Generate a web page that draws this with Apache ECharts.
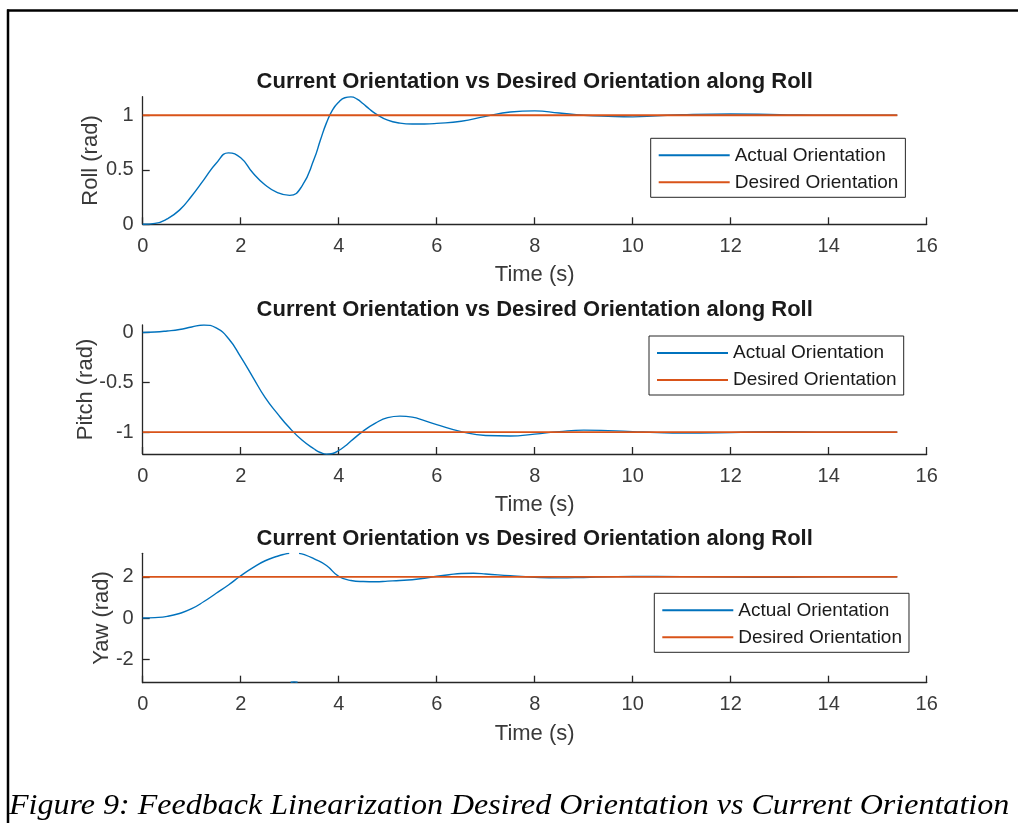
<!DOCTYPE html>
<html>
<head>
<meta charset="utf-8">
<title>Feedback Linearization Orientation</title>
<script src="https://cdn.jsdelivr.net/npm/echarts@6/dist/echarts.min.js"></script>
<style>
  html, body { margin: 0; padding: 0; background: #fff; }
  #chart { width: 1018px; height: 823px; }
</style>
</head>
<body>
<div id="chart"></div>
<script>
// ---- data ----
const panelTitle = 'Current Orientation vs Desired Orientation along Roll';
const xLabel = 'Time (s)';
const seriesNames = ['Actual Orientation', 'Desired Orientation'];
const captionText = 'Figure 9: Feedback Linearization Desired Orientation vs Current Orientation';

const timeTicks = [0, 2, 4, 6, 8, 10, 12, 14, 16];
const simEnd = 15.4;

// Roll
const rollTime =   [0, 0.25, 0.5, 0.75, 1.0, 1.25, 1.5, 1.75, 2.0, 2.25, 2.5, 2.75, 3.0, 3.25, 3.5, 3.625, 3.75, 3.875, 4.0, 4.125, 4.25, 4.375, 4.5, 4.625, 4.75, 5.0, 5.25, 5.5, 5.75, 6.0, 6.5, 7.0, 7.5, 8.0, 8.5, 9.0, 9.5, 10.0, 10.5, 11.0, 12.0, 13.0, 14.0, 15.4];
const rollActual = [0, 0.008, 0.05, 0.13, 0.26, 0.41, 0.56, 0.655, 0.61, 0.47, 0.36, 0.29, 0.265, 0.35, 0.6, 0.77, 0.93, 1.05, 1.12, 1.16, 1.168, 1.148, 1.105, 1.057, 1.015, 0.955, 0.928, 0.92, 0.92, 0.925, 0.945, 0.99, 1.03, 1.04, 1.02, 1.0, 0.99, 0.985, 0.995, 1.005, 1.012, 1.005, 1.0, 1.0];
const rollDesired = 1;
const rollTicks = [0, 0.5, 1];
const rollRange = [0, 1.17];

// Pitch
const pitchTime =   [0, 0.25, 0.5, 0.75, 1.0, 1.25, 1.5, 1.75, 2.0, 2.25, 2.5, 2.75, 3.0, 3.25, 3.5, 3.625, 3.75, 3.875, 4.0, 4.125, 4.25, 4.5, 4.75, 5.0, 5.25, 5.5, 5.75, 6.0, 6.5, 7.0, 7.5, 8.0, 8.5, 9.0, 9.5, 10.0, 10.5, 11.0, 12.0, 13.0, 14.0, 15.4];
const pitchActual = [0, 0.004, 0.015, 0.03, 0.055, 0.075, 0.045, -0.06, -0.245, -0.45, -0.655, -0.815, -0.96, -1.08, -1.17, -1.205, -1.222, -1.215, -1.185, -1.142, -1.09, -0.99, -0.91, -0.855, -0.84, -0.85, -0.885, -0.925, -0.995, -1.035, -1.04, -1.02, -0.995, -0.98, -0.985, -0.995, -1.005, -1.01, -1.005, -0.995, -1.0, -1.0];
const pitchDesired = -1;
const pitchTicks = [-1, -0.5, 0];
const pitchRange = [-1.22, 0.075];

// Yaw (wrapped to [-pi, pi]; null marks a wrap-around jump)
const yawTime =   [0, 0.25, 0.5, 0.75, 1.0, 1.25, 1.5, 1.75, 2.0, 2.25, 2.5, 2.75, 2.9, 2.99, 3.0, 3.02, 3.09, 3.16, 3.17, 3.19, 3.3, 3.5, 3.75, 4.0, 4.25, 4.5, 4.75, 5.0, 5.25, 5.5, 5.75, 6.0, 6.25, 6.5, 6.75, 7.0, 7.5, 8.0, 8.5, 9.0, 9.5, 10.0, 11.0, 12.0, 13.0, 14.0, 15.4];
const yawActual = [0, 0.02, 0.08, 0.22, 0.45, 0.8, 1.2, 1.6, 2.05, 2.45, 2.78, 3.0, 3.1, 3.14, null, -3.12, -3.1, -3.12, null, 3.14, 3.08, 2.87, 2.55, 2.02, 1.82, 1.77, 1.76, 1.79, 1.82, 1.86, 1.93, 2.03, 2.1, 2.16, 2.17, 2.14, 2.05, 1.98, 1.95, 1.97, 2.0, 2.02, 2.01, 1.99, 1.98, 2.0, 2.0];
const yawDesired = 2;
const yawTicks = [-2, 0, 2];
const yawRange = [-Math.PI, Math.PI];

// ---- styling ----
const FONT = 'Liberation Sans, Arial, Helvetica, sans-serif';
const AXIS_COLOR = '#262626';
const TEXT_COLOR = '#3a3a3a';
const BLUE = '#0072BD';
const ORANGE = '#D95319';

const panels = [
  { name: 'Roll (rad)',  time: rollTime,  actual: rollActual,  desired: rollDesired,  ticks: rollTicks,  range: rollRange,
    grid: { top: 96.7, height: 127.6 }, titleTop: 71, yNameGap: 41, legend: { left: 650.7, top: 138.3 } },
  { name: 'Pitch (rad)', time: pitchTime, actual: pitchActual, desired: pitchDesired, ticks: pitchTicks, range: pitchRange,
    grid: { top: 325, height: 129 }, titleTop: 299, yNameGap: 46, legend: { left: 649, top: 336 } },
  { name: 'Yaw (rad)',   time: yawTime,   actual: yawActual,   desired: yawDesired,   ticks: yawTicks,   range: yawRange,
    grid: { top: 553.3, height: 129.4 }, titleTop: 528, yNameGap: 30, legend: { left: 654.3, top: 593.3 } }
];

const gridLeft = 142.7;
const gridRight = 1018 - 926.7;
const plotCenter = (gridLeft + 926.7) / 2;

const option = {
  backgroundColor: '#fff',
  animation: false,
  title: panels.map(p => ({
    text: panelTitle,
    left: plotCenter,
    top: p.titleTop,
    textAlign: 'center',
    padding: 0,
    textStyle: { fontFamily: FONT, fontSize: 22, fontWeight: 'bold', color: '#1a1a1a' }
  })),
  legend: panels.map(p => ({
    data: seriesNames,
    left: p.legend.left,
    top: p.legend.top,
    orient: 'vertical',
    icon: 'rect',
    itemWidth: 71,
    itemHeight: 2,
    itemGap: 7,
    padding: [7, 7, 5, 8],
    borderColor: AXIS_COLOR,
    borderWidth: 1,
    backgroundColor: '#fff',
    selectedMode: false,
    textStyle: { fontFamily: FONT, fontSize: 19, color: '#1a1a1a', lineHeight: 20 }
  })),
  grid: panels.map(p => ({ left: gridLeft, right: gridRight, top: p.grid.top, height: p.grid.height })),
  xAxis: panels.map((p, i) => ({
    type: 'value',
    gridIndex: i,
    min: timeTicks[0],
    max: timeTicks[timeTicks.length - 1],
    interval: timeTicks[1] - timeTicks[0],
    name: xLabel,
    nameLocation: 'middle',
    nameGap: 40,
    nameMoveOverlap: false,
    nameTextStyle: { fontFamily: FONT, fontSize: 22, color: TEXT_COLOR },
    axisLine: { show: true, onZero: false, lineStyle: { color: AXIS_COLOR, width: 1.3 } },
    axisTick: { show: true, inside: true, length: 7, lineStyle: { color: AXIS_COLOR, width: 1.3 } },
    axisLabel: { margin: 12, fontFamily: FONT, fontSize: 20, color: TEXT_COLOR },
    splitLine: { show: false }
  })),
  yAxis: panels.map((p, i) => ({
    type: 'value',
    gridIndex: i,
    min: p.range[0],
    max: p.range[1],
    name: p.name,
    nameLocation: 'middle',
    nameGap: p.yNameGap,
    nameMoveOverlap: false,
    nameTextStyle: { fontFamily: FONT, fontSize: 22, color: TEXT_COLOR },
    axisLine: { show: true, onZero: false, lineStyle: { color: AXIS_COLOR, width: 1.3 } },
    axisTick: { show: true, inside: true, length: 7, customValues: p.ticks, lineStyle: { color: AXIS_COLOR, width: 1.3 } },
    axisLabel: { margin: 9, customValues: p.ticks, fontFamily: FONT, fontSize: 20, color: TEXT_COLOR },
    splitLine: { show: false }
  })),
  series: panels.flatMap((p, i) => [
    {
      name: seriesNames[0],
      type: 'line',
      xAxisIndex: i,
      yAxisIndex: i,
      data: p.time.map((t, k) => [t, p.actual[k]]),
      showSymbol: false,
      symbol: 'none',
      smooth: 0.5,
      connectNulls: false,
      clip: true,
      lineStyle: { color: BLUE, width: 1.4 },
      itemStyle: { color: BLUE },
      z: 2
    },
    {
      name: seriesNames[1],
      type: 'line',
      xAxisIndex: i,
      yAxisIndex: i,
      data: [[0, p.desired], [simEnd, p.desired]],
      showSymbol: false,
      symbol: 'none',
      lineStyle: { color: ORANGE, width: 1.8 },
      itemStyle: { color: ORANGE },
      z: 3
    }
  ]),
  graphic: [
    { type: 'line', shape: { x1: 7, y1: 10.5, x2: 1018, y2: 10.5 }, style: { stroke: '#000', lineWidth: 2.5 } },
    { type: 'line', shape: { x1: 8, y1: 9.5, x2: 8, y2: 823 }, style: { stroke: '#000', lineWidth: 2.5 } },
    {
      type: 'text',
      x: 9,
      y: 791,
      scaleX: 1.068,
      originX: 0,
      originY: 0,
      style: {
        text: captionText,
        fontFamily: 'Liberation Serif, Times New Roman, serif',
        fontStyle: 'italic',
        fontSize: 30,
        fill: '#000',
        verticalAlign: 'top'
      }
    }
  ]
};

const chart = echarts.init(document.getElementById('chart'), null, { renderer: 'canvas' });
chart.setOption(option);
</script>
</body>
</html>
